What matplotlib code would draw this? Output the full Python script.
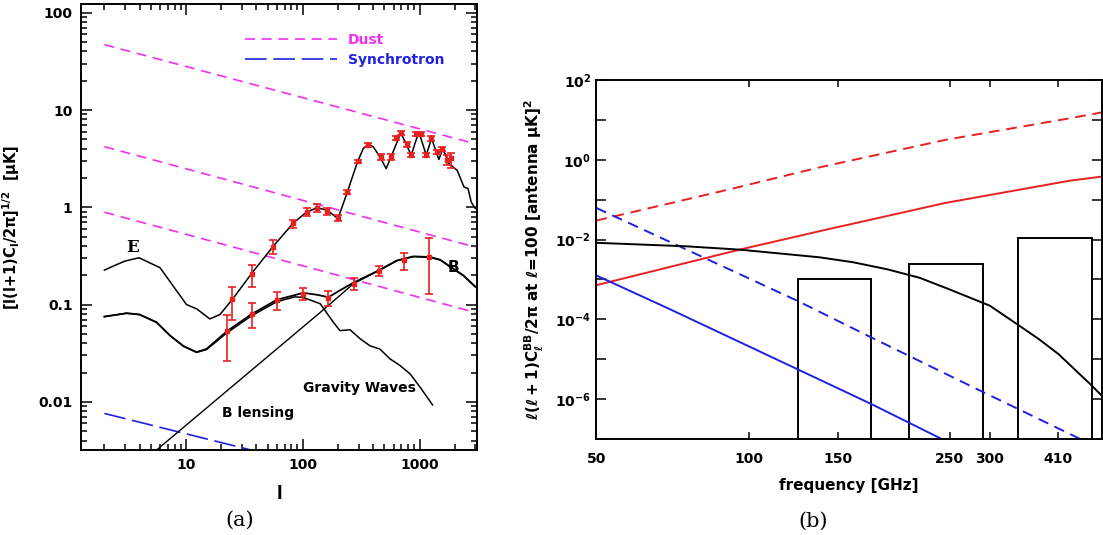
import matplotlib
matplotlib.use('Agg')
import matplotlib.pyplot as plt
from matplotlib.ticker import FixedLocator, FixedFormatter, NullLocator, LogLocator, FuncFormatter
import numpy as np

plt.rcParams['font.family'] = ['DejaVu Sans']
plt.rcParams['font.weight'] = 'bold'
plt.rcParams['axes.labelweight'] = 'bold'
plt.rcParams['mathtext.fontset'] = 'dejavusans'
plt.rcParams['mathtext.default'] = 'bf'

MAG = '#f030f0'
RED = '#e82020'
BLUE = '#2020e0'

# ---------------- panel (a) data ----------------
# E-mode spectrum
E_l = [2, 2.46, 3.0, 3.96, 6.0, 7.8, 10.1, 12.35, 16.0, 19.5, 24.9, 36.8, 56, 83, 108, 133, 163, 200,
       241, 294, 330, 365, 402, 457, 518, 692, 848, 986, 1140, 1268, 1463, 1585, 1783, 2100, 2400, 2600, 2770, 3000]
E_v = [0.226, 0.253, 0.28, 0.303, 0.239, 0.154, 0.1, 0.0903, 0.0712, 0.0789, 0.1126, 0.212, 0.399, 0.69, 0.895, 0.99, 0.93, 0.764,
       1.44, 2.93, 4.03, 4.46, 4.18, 3.3, 2.5, 5.84, 3.44, 5.98, 3.44, 5.1, 3.1, 4.03, 2.82, 2.4, 1.62, 1.56, 1.13, 0.97]

# total B-mode
B_l = [2, 3.1, 4.0, 5.6, 7.3, 9.5, 12.3, 15, 22.3, 36.6, 60, 101, 133, 166, 208, 272, 444, 640, 885, 1232, 1500, 2380, 3000]
B_v = [0.0752, 0.0815, 0.079, 0.0657, 0.048, 0.0374, 0.0325, 0.035, 0.053, 0.08, 0.112, 0.132, 0.126, 0.119, 0.14,
       0.168, 0.224, 0.284, 0.313, 0.308, 0.289, 0.199, 0.153]

# gravity waves B-mode
GW_l = [2, 3.1, 4.0, 5.6, 7.3, 9.5, 12.3, 15, 22.3, 36.6, 60, 85, 100, 141, 183, 208, 254, 310, 376, 457, 558,
        681, 830, 1013, 1292]
GW_v = [0.0752, 0.0815, 0.079, 0.0657, 0.048, 0.0374, 0.0322, 0.0345, 0.051, 0.077, 0.107, 0.12, 0.119, 0.102,
        0.0657, 0.054, 0.0551, 0.0445, 0.0377, 0.0349, 0.0277, 0.0236, 0.0194, 0.0141, 0.0093]

# lensing B-mode
lens_l = [5.6, 141, 272, 444, 640, 885, 1232, 1500, 2380, 3000]
lens_v = [0.0032, 0.083, 0.164, 0.222, 0.282, 0.311, 0.306, 0.287, 0.197, 0.152]

# foregrounds
dust_l = [2, 3000]
dust_hi = [47, 4.5]
dust_mid = [4.2, 0.39]
dust_lo = [0.89, 0.083]
sync_l = [2, 36]
sync_v = [0.0076, 0.0032]

# simulated data points with errors
Ep_l = [24.6, 36.6, 55.3, 83, 108, 133, 162, 200, 240, 295, 362, 469, 570, 625, 692, 782, 848, 936, 1030,
        1140, 1260, 1408, 1550, 1707, 1850]
Ep_v = [0.113, 0.207, 0.39, 0.69, 0.895, 0.99, 0.916, 0.78, 1.44, 2.96, 4.38, 3.3, 3.3, 5.1, 5.84, 4.43, 3.44,
        5.66, 5.66, 3.44, 5.1, 3.72, 3.93, 3.1, 3.18]
Ep_lo = [0.069, 0.153, 0.334, 0.617, 0.81, 0.895, 0.84, 0.72, 1.36, 2.85, 4.2, 3.1, 3.1, 4.9, 5.6, 4.2, 3.3,
         5.45, 5.45, 3.3, 4.85, 3.55, 3.75, 2.71, 2.56]
Ep_hi = [0.15, 0.253, 0.457, 0.746, 0.99, 1.09, 0.99, 0.84, 1.52, 3.08, 4.55, 3.5, 3.5, 5.35, 6.1, 4.65, 3.6,
         5.9, 5.9, 3.6, 5.35, 3.9, 4.15, 3.44, 3.63]

Bp_l = [22.3, 36.6, 60.6, 101, 164, 272, 449, 734, 1215]
Bp_v = [0.053, 0.08, 0.112, 0.129, 0.117, 0.163, 0.224, 0.289, 0.308]
Bp_lo = [0.0263, 0.0571, 0.088, 0.112, 0.096, 0.142, 0.195, 0.228, 0.129]
Bp_hi = [0.0788, 0.103, 0.134, 0.149, 0.137, 0.188, 0.252, 0.338, 0.487]

yticks_a = [0.01, 0.1, 1, 10, 100]
yticklabels_a = ['0.01', '0.1', '1', '10', '100']
xticks_a = [10, 100, 1000]
xticklabels_a = ['10', '100', '1000']

# ---------------- panel (b) data ----------------
freq_dust_hi = [50, 91, 138, 245, 432, 500]
dust_hi_b = [0.030, 0.178, 0.645, 3.16, 11.0, 15.5]
freq_dust_lo = [50, 96, 138, 245, 432, 500]
dust_lo_b = [7.2e-4, 5.6e-3, 0.0162, 0.083, 0.30, 0.38]
freq_sync_hi = [50, 125, 175, 291, 453]
sync_hi_b = [0.062, 2.9e-4, 3.5e-5, 1.5e-6, 1e-7]
freq_sync_lo = [50, 70, 125, 175, 241]
sync_lo_b = [1.26e-3, 1.78e-4, 5.6e-6, 7.5e-7, 1e-7]
freq_cmb = [50, 75, 96, 138, 161, 188, 218, 250, 300, 340, 375, 410, 477, 500]
cmb_b = [8.3e-3, 6.8e-3, 5.6e-3, 3.6e-3, 2.7e-3, 1.8e-3, 1.1e-3, 5.6e-4, 2.2e-4, 7.5e-5, 3.2e-5, 1.35e-5,
         2.2e-6, 1.2e-6]

band_lo = [125, 208, 341]
band_hi = [175, 291, 477]
band_top = [1.0e-3, 2.4e-3, 1.1e-2]

xticks_b = [50, 100, 150, 250, 300, 410]
xticklabels_b = ['50', '100', '150', '250', '300', '410']

fig = plt.figure(figsize=(11.03, 5.35), dpi=100)

# ================= (a) =================
ax = fig.add_axes([0.0734, 0.1589, 0.359, 0.8336])
ax.set_xscale('log')
ax.set_yscale('log')

ax.plot(dust_l, dust_hi, color=MAG, lw=1.2, dashes=(6, 4), label='Dust')
ax.plot(dust_l, dust_mid, color=MAG, lw=1.2, dashes=(6, 4))
ax.plot(dust_l, dust_lo, color=MAG, lw=1.2, dashes=(6, 4))
ax.plot(sync_l, sync_v, color=BLUE, lw=1.2, dashes=(13, 4), label='Synchrotron')

ax.plot(E_l, E_v, color='k', lw=1.1)
ax.plot(GW_l, GW_v, color='k', lw=1.1)
ax.plot(B_l, B_v, color='k', lw=1.3)
ax.plot(lens_l, lens_v, color='k', lw=1.0)

for pl, pv, plo, phi in [(Ep_l, Ep_v, Ep_lo, Ep_hi), (Bp_l, Bp_v, Bp_lo, Bp_hi)]:
    pv = np.array(pv)
    err = [pv - np.array(plo), np.array(phi) - pv]
    ax.errorbar(pl, pv, yerr=err, fmt='s', ms=3, color=RED, ecolor=RED, elinewidth=1.2,
                capsize=2.8, capthick=1.2, zorder=5)

ax.text(3.5, 0.39, 'E', fontsize=12, ha='center', va='center', family='DejaVu Serif')
ax.text(1950, 0.24, 'B', fontsize=11, ha='center', va='center')
ax.text(100, 0.0140, 'Gravity Waves', fontsize=10, ha='left', va='center')
ax.text(20.2, 0.00776, 'B lensing', fontsize=10, ha='left', va='center')

leg = ax.legend(loc='upper left', bbox_to_anchor=(0.414, 0.935), frameon=False, fontsize=10,
                handlelength=6.6, handletextpad=0.8, labelspacing=0.45, borderpad=0, borderaxespad=0)
for txt, c in zip(leg.get_texts(), [MAG, BLUE]):
    txt.set_color(c)

ax.set_xlim(1.26, 3100)
ax.set_ylim(0.0032, 123)
ax.yaxis.set_major_locator(FixedLocator(yticks_a))
ax.yaxis.set_major_formatter(FixedFormatter(yticklabels_a))
ax.xaxis.set_major_locator(FixedLocator(xticks_a))
ax.xaxis.set_major_formatter(FixedFormatter(xticklabels_a))
ax.xaxis.set_minor_locator(LogLocator(base=10, subs=np.arange(2, 10), numticks=20))
ax.yaxis.set_minor_locator(LogLocator(base=10, subs=np.arange(2, 10), numticks=20))
ax.tick_params(which='both', direction='in', top=True, right=True, width=1.1, labelsize=10)
ax.tick_params(which='major', length=7.9, pad=6)
ax.tick_params(which='minor', length=4)
for s in ax.spines.values():
    s.set_linewidth(1.4)

ax.set_ylabel(r'[l(l+1)C$_{\rm l}$/2$\pi$]$^{1/2}$  [$\mu$K]', fontsize=10.5)
ax.yaxis.set_label_coords(-0.15, 0.5)
ax.set_xlabel('l', fontsize=12)
ax.xaxis.set_label_coords(0.5, -0.078)

# ================= (b) =================
bx = fig.add_axes([0.5407, 0.1794, 0.4584, 0.6710])
bx.set_xscale('log')
bx.set_yscale('log')

bx.plot(freq_dust_hi, dust_hi_b, color=RED, lw=1.4, dashes=(5.5, 3.5))
bx.plot(freq_dust_lo, dust_lo_b, color=RED, lw=1.4)
bx.plot(freq_sync_hi, sync_hi_b, color=BLUE, lw=1.4, dashes=(5.5, 3.5))
bx.plot(freq_sync_lo, sync_lo_b, color=BLUE, lw=1.4)
bx.plot(freq_cmb, cmb_b, color='k', lw=1.4)

widths = [h - l for l, h in zip(band_lo, band_hi)]
heights = [t - 1e-9 for t in band_top]
bx.bar(band_lo, heights, width=widths, bottom=1e-9, align='edge', fill=False,
       edgecolor='k', linewidth=1.4)

bx.set_xlim(50, 500)
bx.set_ylim(1e-7, 1e2)
bx.xaxis.set_major_locator(FixedLocator(xticks_b))
bx.xaxis.set_major_formatter(FixedFormatter(xticklabels_b))
bx.xaxis.set_minor_locator(NullLocator())
bx.yaxis.set_major_locator(LogLocator(base=10, numticks=20))
bx.yaxis.set_minor_locator(NullLocator())


def even_pow(v, pos):
    n = int(round(np.log10(v)))
    return r'$10^{%d}$' % n if n % 2 == 0 else ''


bx.yaxis.set_major_formatter(FuncFormatter(even_pow))
bx.tick_params(which='both', direction='in', top=True, right=True, width=1.1, labelsize=10)
bx.tick_params(axis='x', length=5, pad=9)
bx.tick_params(axis='y', length=7.2, pad=4)
for s in bx.spines.values():
    s.set_linewidth(1.4)

bx.set_xlabel('frequency [GHz]', fontsize=11)
bx.xaxis.set_label_coords(0.5, -0.109)
bx.set_ylabel(r'$\ell(\ell+1)C_\ell^{BB}/2\pi$ at $\ell$=100 [antenna $\mu$K]$^2$', fontsize=11)
bx.yaxis.set_label_coords(-0.1, 0.5)

fig.text(0.2176, 0.028, '(a)', fontsize=15, family='DejaVu Serif', weight='normal', ha='center', va='center')
fig.text(0.737, 0.025, '(b)', fontsize=15, family='DejaVu Serif', weight='normal', ha='center', va='center')

fig.savefig('out.png', dpi=100)
